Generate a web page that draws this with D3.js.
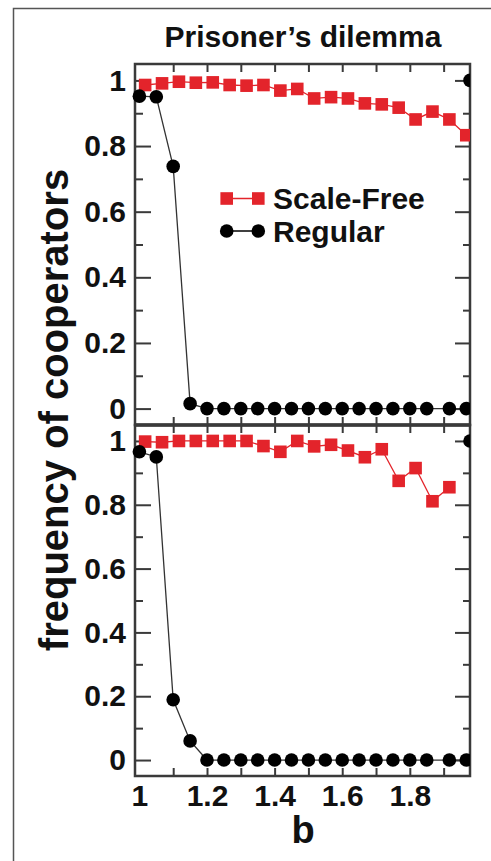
<!DOCTYPE html>
<html>
<head>
<meta charset="utf-8">
<script src="https://cdn.jsdelivr.net/npm/d3@7"></script>
<style>
  html, body { margin: 0; padding: 0; background: #fff; }
  svg { display: block; font-family: "Liberation Sans", Arial, sans-serif; }
</style>
</head>
<body>
<div id="chart"></div>
<script>
// b values
const bRegular = [1.0, 1.05, 1.1, 1.15, 1.2, 1.25, 1.3, 1.35, 1.4, 1.45, 1.5, 1.55, 1.6, 1.65, 1.7, 1.75, 1.8, 1.85, 1.917, 1.967];
const bScaleFree = [1.017, 1.067, 1.117, 1.167, 1.217, 1.267, 1.317, 1.367, 1.417, 1.467, 1.517, 1.567, 1.617, 1.667, 1.717, 1.767, 1.817, 1.867, 1.917, 1.967];

// upper panel
const regularTop = [0.952, 0.95, 0.738, 0.015, 0, 0, 0, 0, 0, 0, 0, 0, 0, 0, 0, 0, 0, 0, 0, 0];
const scaleFreeTop = [0.986, 0.991, 0.996, 0.993, 0.994, 0.986, 0.984, 0.986, 0.969, 0.974, 0.945, 0.949, 0.945, 0.930, 0.927, 0.917, 0.881, 0.905, 0.881, 0.833];

// lower panel
const regularBottom = [0.966, 0.95, 0.189, 0.06, 0, 0, 0, 0, 0, 0, 0, 0, 0, 0, 0, 0, 0, 0, 0, 0];
const scaleFreeBottom = [0.998, 0.996, 1.0, 1.0, 1.0, 1.0, 1.0, 0.984, 0.966, 1.0, 0.983, 0.988, 0.970, 0.949, 0.974, 0.875, 0.915, 0.811, 0.855];

// lone dot sitting on the right frame at y = 1
const edgeB = [1.978];
const edgeValue = [1.0];

const yMajor = [0, 0.2, 0.4, 0.6, 0.8, 1];
const yMinor = [0.1, 0.3, 0.5, 0.7, 0.9];
const xLabels = [1, 1.2, 1.4, 1.6, 1.8];
const xTicks = [1.1, 1.2, 1.3, 1.4, 1.5, 1.6, 1.7, 1.8, 1.9];

const width = 491, height = 861;
const left = 135, right = 470;
const panels = [
  { top: 64, bottom: 425, reg: regularTop, sf: scaleFreeTop },
  { top: 425, bottom: 776, reg: regularBottom, sf: scaleFreeBottom }
];

const red = "#e3242b";
const axisColor = "#3a3a3a";

const svg = d3.select("#chart").append("svg")
  .attr("width", width)
  .attr("height", height);

// outer frame (runs off the right and bottom)
svg.append("rect")
  .attr("x", 13.5).attr("y", 8.5)
  .attr("width", width).attr("height", height)
  .attr("fill", "none").attr("stroke", "#555").attr("stroke-width", 1.5);

const x = d3.scaleLinear().domain([0.987, 1.978]).range([left, right]);

svg.append("clipPath").attr("id", "clip")
  .append("rect").attr("x", 0).attr("y", 0).attr("width", right).attr("height", height);

const styleAxis = g => {
  g.select(".domain").remove();
  g.selectAll(".tick line").attr("stroke", axisColor).attr("stroke-width", 2);
  g.selectAll(".tick text")
    .attr("fill", "#111")
    .style("font-size", "30px")
    .style("font-weight", "bold");
};

panels.forEach((p, i) => {
  const y = d3.scaleLinear().domain([-0.05, 1.05]).range([p.bottom, p.top]);
  const g = svg.append("g");

  // y ticks left
  g.append("g").attr("transform", `translate(${left},0)`)
    .call(d3.axisLeft(y).tickValues(yMajor).tickSizeInner(-16).tickSizeOuter(0).tickPadding(9)
      .tickFormat(d => d === 0 || d === 1 ? d3.format("d")(d) : d3.format(".1f")(d)))
    .call(styleAxis);
  g.append("g").attr("transform", `translate(${left},0)`)
    .call(d3.axisLeft(y).tickValues(yMinor).tickSizeInner(-8).tickSizeOuter(0).tickFormat(""))
    .call(styleAxis);
  // y ticks right
  g.append("g").attr("transform", `translate(${right},0)`)
    .call(d3.axisRight(y).tickValues(yMajor).tickSizeInner(-15).tickSizeOuter(0).tickFormat(""))
    .call(styleAxis);
  g.append("g").attr("transform", `translate(${right},0)`)
    .call(d3.axisRight(y).tickValues(yMinor).tickSizeInner(-7).tickSizeOuter(0).tickFormat(""))
    .call(styleAxis);
  // x ticks top and bottom of panel
  g.append("g").attr("transform", `translate(0,${p.top})`)
    .call(d3.axisTop(x).tickValues(xTicks).tickSizeInner(-8).tickSizeOuter(0).tickFormat(""))
    .call(styleAxis);
  g.append("g").attr("transform", `translate(0,${p.bottom})`)
    .call(d3.axisBottom(x).tickValues(xTicks).tickSizeInner(-8).tickSizeOuter(0).tickFormat(""))
    .call(styleAxis);

  if (i === 1) {
    g.append("g").attr("transform", `translate(0,${p.bottom})`)
      .call(d3.axisBottom(x).tickValues(xLabels).tickSize(0).tickPadding(9)
        .tickFormat(d => d === 1 ? "1" : d3.format(".1f")(d)))
      .call(styleAxis);
  }

  // frame
  g.append("rect")
    .attr("x", left).attr("y", p.top)
    .attr("width", right - left).attr("height", p.bottom - p.top)
    .attr("fill", "none").attr("stroke", axisColor).attr("stroke-width", 2.5);

  const plot = g.append("g").attr("clip-path", "url(#clip)");

  const sfData = p.sf.map((v, k) => [bScaleFree[k], v]);
  const regData = p.reg.map((v, k) => [bRegular[k], v]);
  const line = d3.line().x(d => x(d[0])).y(d => y(d[1]));

  plot.append("path").datum(sfData).attr("d", line)
    .attr("fill", "none").attr("stroke", red).attr("stroke-width", 1.3);
  plot.selectAll(".sq").data(sfData).enter().append("rect")
    .attr("x", d => x(d[0]) - 6.3).attr("y", d => y(d[1]) - 6.3)
    .attr("width", 12.6).attr("height", 12.6)
    .attr("fill", red);

  plot.append("path").datum(regData).attr("d", line)
    .attr("fill", "none").attr("stroke", "#333").attr("stroke-width", 1.3);
  plot.selectAll(".dot").data(regData).enter().append("circle")
    .attr("cx", d => x(d[0])).attr("cy", d => y(d[1]))
    .attr("r", 6.8).attr("fill", "#000");

  plot.selectAll(".edge").data(edgeB.map((b, k) => [b, edgeValue[k]])).enter().append("circle")
    .attr("cx", d => x(d[0])).attr("cy", d => y(d[1]))
    .attr("r", 6.8).attr("fill", "#000");
});

// divider between the panels
svg.append("line")
  .attr("x1", left).attr("x2", right).attr("y1", 425).attr("y2", 425)
  .attr("stroke", axisColor).attr("stroke-width", 3.5);

// title
svg.append("text")
  .attr("x", 303).attr("y", 47)
  .attr("text-anchor", "middle")
  .style("font-size", "30px").style("font-weight", "bold")
  .attr("fill", "#111")
  .text("Prisoner’s dilemma");

// axis labels
svg.append("text")
  .attr("transform", "translate(68,410) rotate(-90)")
  .attr("text-anchor", "middle")
  .style("font-size", "40px").style("font-weight", "bold")
  .attr("fill", "#111")
  .text("frequency of cooperators");

svg.append("text")
  .attr("x", 303).attr("y", 843)
  .attr("text-anchor", "middle")
  .style("font-size", "38px").style("font-weight", "bold")
  .attr("fill", "#111")
  .text("b");

// legend
const legend = svg.append("g");
const legendRows = [
  { label: "Scale-Free", color: red, shape: "square", y: 198.5 },
  { label: "Regular", color: "#000", shape: "circle", y: 231 }
];
legendRows.forEach(r => {
  legend.append("line")
    .attr("x1", 226.7).attr("x2", 258.3).attr("y1", r.y).attr("y2", r.y)
    .attr("stroke", r.color).attr("stroke-width", 1.5);
  [226.7, 258.3].forEach(cx => {
    if (r.shape === "square") {
      legend.append("rect").attr("x", cx - 6.3).attr("y", r.y - 6.3)
        .attr("width", 12.6).attr("height", 12.6).attr("fill", r.color);
    } else {
      legend.append("circle").attr("cx", cx).attr("cy", r.y).attr("r", 6.8).attr("fill", r.color);
    }
  });
  legend.append("text")
    .attr("x", 273).attr("y", r.y).attr("dy", "0.36em")
    .style("font-size", "30px").style("font-weight", "bold")
    .attr("fill", "#111")
    .text(r.label);
});
</script>
</body>
</html>
